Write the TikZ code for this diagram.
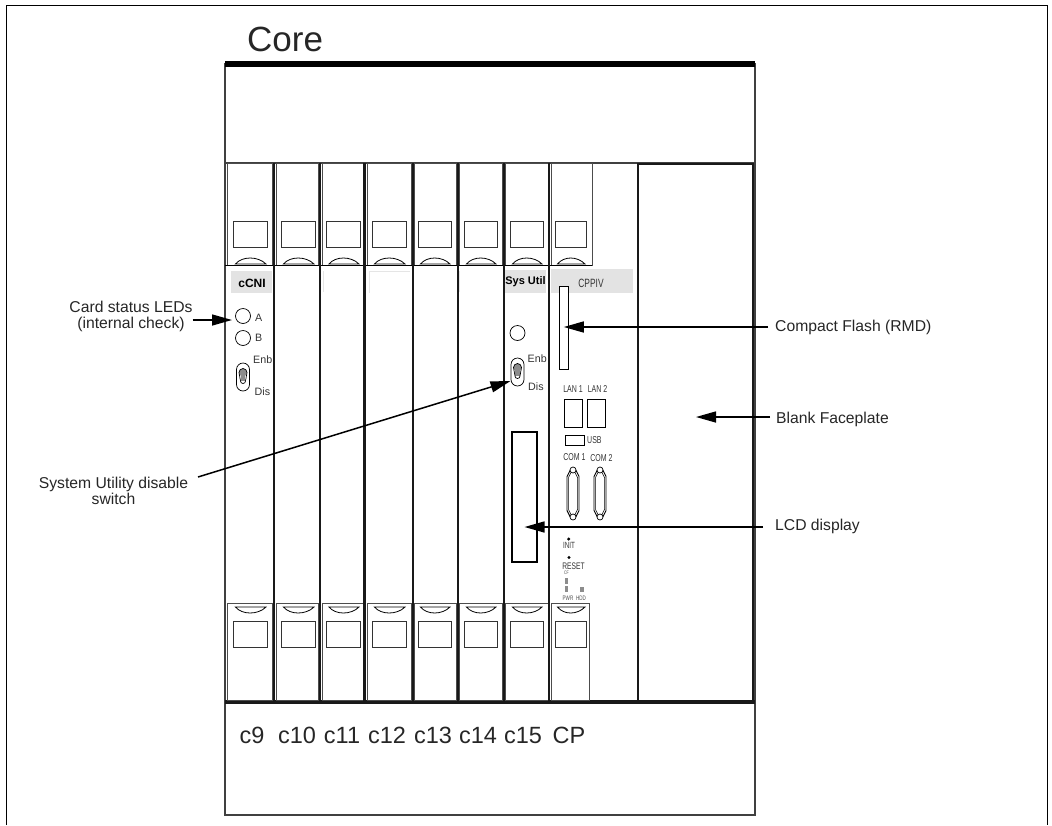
\documentclass[tikz,border=0pt]{standalone}
\usepackage{fontspec}
\setmainfont{Liberation Sans}
\newfontfamily\narrowfont[FakeStretch=0.7]{Liberation Sans}
\usetikzlibrary{arrows.meta,calc,positioning,shapes.misc}
\tikzset{
  % Kort og ramme
  rack/.style={draw=black!75,line width=1.3pt},
  slotline/.style={draw=black!90,line width=2.2pt},
  handle/.style={draw=black!70,line width=1pt},
  latchbox/.style={draw=black!80,line width=0.9pt},
  band/.style={fill=black!11,draw=none},
  faint/.style={draw=black!10,line width=0.6pt},
  % Delar paa kortet
  led/.style={draw,circle,minimum size=15pt,inner sep=0pt,line width=0.7pt},
  port/.style={draw,rectangle,inner sep=0pt,line width=1pt},
  toggle/.style={draw,rounded rectangle,rounded rectangle arc length=180,rotate=90,minimum width=28pt,minimum height=13pt,inner sep=0pt,line width=0.7pt},
  % Tekst
  notelabel/.style={font=\fontsize{15.7}{16}\selectfont,align=center,inner sep=0pt,text=black!85},
  slotname/.style={font=\fontsize{23.5}{24}\selectfont,inner sep=0pt,anchor=base,text=black!85},
  tinylabel/.style={font=\fontsize{10.7}{11}\selectfont,inner sep=0pt,text=black!80},
  boldtag/.style={font=\fontsize{11}{12}\bfseries\selectfont,inner sep=0pt},
  portlabel/.style={font=\narrowfont\fontsize{10}{11}\selectfont,inner sep=0pt,text=black!80},
  micro/.style={font=\narrowfont\fontsize{6.5}{7}\selectfont,inner sep=0pt,text=black!70},
  % Kantar
  callout/.style={-{Triangle[length=20pt,width=11pt]},line width=1.5pt},
  dsub/.pic={
    \draw[line width=0.9pt] (-6,-17) -- (-6,17) -- (-3,23) -- (3,23) -- (6,17) -- (6,-17) -- (3,-23) -- (-3,-23) -- cycle;
    \draw[line width=0.5pt] (-4.5,-16) -- (-4.5,16) -- (-2,21) -- (2,21) -- (4.5,16) -- (4.5,-16) -- (2,-21) -- (-2,-21) -- cycle;
    \draw[fill=white,line width=0.7pt] (0,-23.5) circle (3);
    \draw[fill=white,line width=0.7pt] (0,23.5) circle (3);
  },
  keyhole/.pic={
    \fill[black!45] (0,-2.5) circle (4);
    \fill[black!45] (-2.2,-2) rectangle (2.2,6);
    \draw[line width=0.7pt] (-4,-2.5) arc (180:360:4) -- (2.5,6) arc (0:180:2.5) -- cycle;
  },
}

\begin{document}
\begin{tikzpicture}[x=1pt,y=-1pt]
  \useasboundingbox (0,0) rectangle (1052,825);
  \draw[line width=1pt] (6,825) -- (6,5) -- (1047,5) -- (1047,825);
  \node[font=\fontsize{35}{36}\selectfont,inner sep=0pt,anchor=base west,text=black!85] (title) at (247,51) {Core};

  % Ramme
  \draw[rack] (225,64) rectangle (755,815);
  \draw[line width=6pt] (225,64) -- (755,64);
  \draw[rack] (225,163) -- (755,163);
  \draw[line width=4pt,draw=black!90] (225,702) -- (755,702);

  % Etikettfelt
  \fill[band] (231,271) rectangle (272,293);
  \fill[band] (505,270) rectangle (546,293);
  \fill[band] (551,269) rectangle (633,293);
  \draw[faint] (323.5,271) -- (323.5,292);
  \draw[faint] (369,293) -- (369,271) -- (410,271);
  \draw[faint] (459.5,271) -- (459.5,292);

  % Handtak oppe og nede
  \foreach \xa/\xb/\xc/\wa/\wb in {227/272/272/233/267,276/318/318/281/315,322/363/363/326.5/360,367/411/411/372/406,414/456/456/418/451,459/502/502/464/497,505/548/548/510/543,551/592/589/555/586}{
    \draw[handle] (\xa,163) rectangle (\xb,265);
    \draw[latchbox] (\wa,221) rectangle (\wb,247);
    \draw[line width=0.8pt] ($(\wa,264)+(2.5,0)$) .. controls ($(\wa,256)+(9,0)$) and ($(\wb,256)+(-9,0)$) .. ($(\wb,264)+(-1,0)$) -- cycle;
    \draw[handle] (\xa,603) rectangle (\xc,700);
    \draw[latchbox] (\wa,621) rectangle (\wb,647);
    \draw[line width=0.8pt] ($(\wa,607)+(2.5,0)$) .. controls ($(\wa,615)+(9,0)$) and ($(\wb,615)+(-9,0)$) .. ($(\wb,607)+(-1,0)$) -- cycle;
  }
  \draw[line width=0.8pt] (225,265) -- (592,265);
  \foreach \x in {274,320,364.5,413,458,504,549}{
    \draw[slotline] (\x,163) -- (\x,702);
  }
  \draw[slotline] (638,163) -- (638,701) (638,164) -- (754,164) (753,164) -- (753,701);
  \node[inner sep=0pt,minimum width=115pt,minimum height=536pt] (blankplate) at (696,431) {};

  % Kort c9
  \node[boldtag,font=\fontsize{12}{13}\bfseries\selectfont] (tagcni) at (252,283) {cCNI};
  \node[led] (leda) at (243,316) {};
  \node[led] (ledb) at (243,338) {};
  \node[tinylabel,anchor=west] (texta) at (255,318) {A};
  \node[tinylabel,anchor=west] (textb) at (255,338) {B};
  \node[toggle] (swcni) at (243,377) {};
  \pic at (243,375) {keyhole};
  \node[tinylabel,anchor=west] (enbcni) at (253,360) {Enb};
  \node[tinylabel,anchor=west] (discni) at (254.5,392) {Dis};

  % Kort c15
  \node[boldtag] (tagsys) at (525.5,281.5) {Sys Util};
  \node[led] (ledsys) at (517.5,333) {};
  \node[toggle] (swsys) at (517.5,372) {};
  \pic at (517.5,370) {keyhole};
  \node[tinylabel,anchor=west] (enbsys) at (527.5,359) {Enb};
  \node[tinylabel,anchor=west] (dissys) at (528,387) {Dis};
  \node[port,minimum width=25pt,minimum height=130pt,line width=1.5pt] (lcdpanel) at (524.5,497) {};

  % Kort CP
  \node[portlabel,font=\narrowfont\fontsize{12}{13}\selectfont] (tagcpp) at (591,283) {CPPIV};
  \node[port,minimum width=9.5pt,minimum height=83pt,fill=white] (flashslot) at (563.8,327.5) {};
  \node[portlabel] (textlana) at (573,389) {LAN 1};
  \node[portlabel] (textlanb) at (597.5,389) {LAN 2};
  \node[port,minimum width=17.5pt,minimum height=28.5pt] (lana) at (573.7,413.5) {};
  \node[port,minimum width=17.5pt,minimum height=28.5pt] (lanb) at (596.7,413.5) {};
  \node[port,minimum width=19pt,minimum height=10pt] (usb) at (574.5,440) {};
  \node[portlabel,anchor=west] (textusb) at (587,440.5) {USB};
  \node[portlabel] (textcoma) at (574.5,457) {COM 1};
  \node[portlabel] (textcomb) at (601.5,458) {COM 2};
  \pic at (573,493.5) {dsub};
  \pic at (600,493.5) {dsub};
  \fill (568.7,539) circle (1.7) coordinate (dotinit);
  \node[portlabel,font=\narrowfont\fontsize{9}{10}\selectfont] (textinit) at (569,545.5) {INIT};
  \fill (569,557.5) circle (1.7) coordinate (dotreset);
  \node[portlabel,font=\narrowfont\fontsize{9.5}{10}\selectfont] (textreset) at (573.5,566) {RESET};
  \node[micro,font=\narrowfont\fontsize{5}{6}\selectfont] (textcf) at (566.5,573) {CF};
  \fill[black!45] (565,578) rectangle (568,584);
  \fill[black!45] (565,586) rectangle (568,592);
  \fill[black!45] (580,587) rectangle (584,592);
  \node[micro] (textpwr) at (568,598) {PWR};
  \node[micro] (texthdd) at (581,598.5) {HDD};

  % Kortnamn
  \foreach \x/\t in {252/c9,297/c10,342/c11,387/c12,433/c13,478/c14,523/c15,569/CP}{
    \node[slotname] (name\t) at (\x,743) {\t};
  }

  % Forklaringar
  \node[notelabel] (lblstatus) at (131,316.5) {Card status LEDs\\(internal check)};
  \node[notelabel] (lblswitch) at (113.5,490.5) {System Utility disable\\switch};
  \node[notelabel,anchor=west] (lblflash) at (775,327) {Compact Flash (RMD)};
  \node[notelabel,anchor=west] (lblblank) at (776,419) {Blank Faceplate};
  \node[notelabel,anchor=west] (lbllcd) at (775,526) {LCD display};
  \coordinate (tipstatus) at (232,320);
  \coordinate (tipswitch) at (510.5,381);
  \coordinate (startswitch) at (198,477);
  \draw[callout] (lblstatus.east |- tipstatus) -- (tipstatus);
  \draw[callout] (startswitch) -- (tipswitch);
  \draw[callout,shorten <=7pt] (lblflash.west) -- (lblflash.west -| flashslot.center);
  \draw[callout,shorten <=6pt] (lblblank.west |- 0,417) -- (blankplate.center |- 0,417);
  \draw[callout,shorten <=12pt] (lbllcd.west |- 0,527) -- (lcdpanel.center |- 0,527);
\end{tikzpicture}
\end{document}
